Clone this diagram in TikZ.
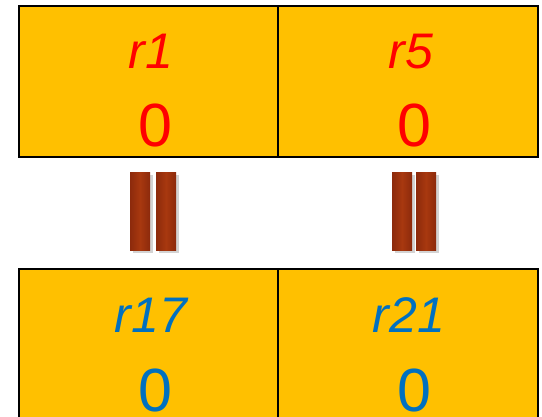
\documentclass[tikz,border=0pt]{standalone}
\usepackage{fontspec}
\setmainfont{Liberation Sans}
\usetikzlibrary{positioning,shadows}
\definecolor{gold}{HTML}{FFC000}
\definecolor{regred}{HTML}{FF0000}
\definecolor{regblue}{HTML}{0070C0}
\definecolor{brdark}{HTML}{8C2A0C}
\definecolor{brlight}{HTML}{A8380F}

\begin{document}
\begin{tikzpicture}[x=1pt, y=-1pt,
  cell/.style={draw, line width=2pt, fill=gold, minimum width=259.5pt, minimum height=151pt, inner sep=0pt},
  reg/.style={font=\fontsize{50}{50}\selectfont\itshape, anchor=base, inner sep=0pt},
  val/.style={font=\fontsize{61}{61}\selectfont, anchor=base, inner sep=0pt},
  bar/.style={left color=brdark, right color=brdark, middle color=brlight, minimum width=20pt, minimum height=78pt, inner sep=0pt,
    drop shadow={shadow xshift=2.5pt, shadow yshift=-2.5pt, opacity=0.35}}]
  \clip (0,0) rectangle (542,416);
  % top row
  \node[cell] (c1) at (148.5,81) {};
  \node[cell] (c5) at (408,81) {};
  \node[reg, text=regred] (r1) at (151,68) {r1};
  \node[val, text=regred] (v1) at (155,146) {0};
  \node[reg, text=regred] (r5) at (411,68) {r5};
  \node[val, text=regred] (v5) at (414,146) {0};
  % bottom row
  \node[cell] (c17) at (148.5,344) {};
  \node[cell] (c21) at (408,344) {};
  \node[reg, text=regblue] (r17) at (151,332) {r17};
  \node[val, text=regblue] (v17) at (155,411) {0};
  \node[reg, text=regblue] (r21) at (409,332) {r21};
  \node[val, text=regblue] (v21) at (414,411) {0};
  % equal signs
  \node[bar] (e1a) at (140,211) {};
  \node[bar] (e1b) at (166,211) {};
  \node[bar] (e5a) at (402,211) {};
  \node[bar] (e5b) at (426,211) {};
\end{tikzpicture}
\end{document}
